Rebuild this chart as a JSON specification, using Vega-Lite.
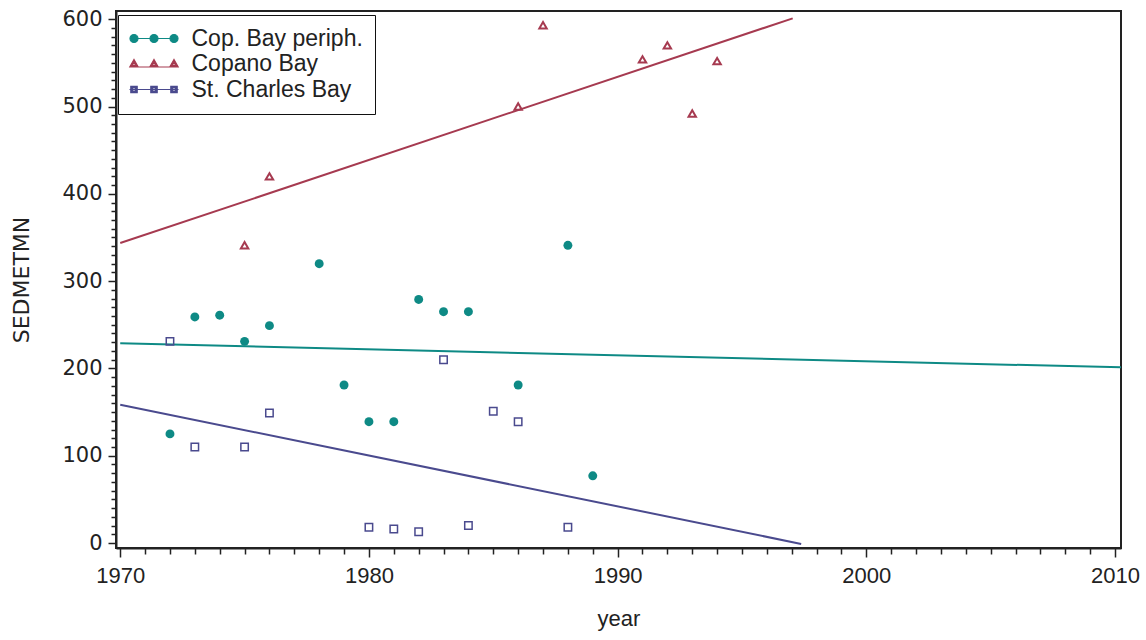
{
  "$schema": "https://vega.github.io/schema/vega-lite/v6.json",
  "width": 1005,
  "height": 537,
  "autosize": "none",
  "padding": {"left": 116, "top": 11, "right": 25, "bottom": 92},
  "background": "white",
  "config": {
    "view": {"stroke": "#222222", "strokeWidth": 2},
    "font": "Liberation Sans"
  },
  "datasets": {
    "pts": [
      {"series": "Cop. Bay periph.", "year": 1972, "val": 125},
      {"series": "Cop. Bay periph.", "year": 1973, "val": 259},
      {"series": "Cop. Bay periph.", "year": 1974, "val": 261},
      {"series": "Cop. Bay periph.", "year": 1975, "val": 231},
      {"series": "Cop. Bay periph.", "year": 1976, "val": 249},
      {"series": "Cop. Bay periph.", "year": 1978, "val": 320},
      {"series": "Cop. Bay periph.", "year": 1979, "val": 181},
      {"series": "Cop. Bay periph.", "year": 1980, "val": 139},
      {"series": "Cop. Bay periph.", "year": 1981, "val": 139},
      {"series": "Cop. Bay periph.", "year": 1982, "val": 279},
      {"series": "Cop. Bay periph.", "year": 1983, "val": 265},
      {"series": "Cop. Bay periph.", "year": 1984, "val": 265},
      {"series": "Cop. Bay periph.", "year": 1986, "val": 181},
      {"series": "Cop. Bay periph.", "year": 1988, "val": 341},
      {"series": "Cop. Bay periph.", "year": 1989, "val": 77},
      {"series": "Copano Bay", "year": 1975, "val": 341},
      {"series": "Copano Bay", "year": 1976, "val": 420},
      {"series": "Copano Bay", "year": 1986, "val": 500},
      {"series": "Copano Bay", "year": 1987, "val": 593},
      {"series": "Copano Bay", "year": 1991, "val": 554},
      {"series": "Copano Bay", "year": 1992, "val": 570},
      {"series": "Copano Bay", "year": 1993, "val": 492},
      {"series": "Copano Bay", "year": 1994, "val": 552},
      {"series": "St. Charles Bay", "year": 1972, "val": 231},
      {"series": "St. Charles Bay", "year": 1973, "val": 110},
      {"series": "St. Charles Bay", "year": 1975, "val": 110},
      {"series": "St. Charles Bay", "year": 1976, "val": 149},
      {"series": "St. Charles Bay", "year": 1980, "val": 18},
      {"series": "St. Charles Bay", "year": 1981, "val": 16},
      {"series": "St. Charles Bay", "year": 1982, "val": 13},
      {"series": "St. Charles Bay", "year": 1983, "val": 210},
      {"series": "St. Charles Bay", "year": 1984, "val": 20},
      {"series": "St. Charles Bay", "year": 1985, "val": 151},
      {"series": "St. Charles Bay", "year": 1986, "val": 139},
      {"series": "St. Charles Bay", "year": 1988, "val": 18}
    ],
    "fits": [
      {"series": "Cop. Bay periph.", "year": 1970, "val": 228.7},
      {"series": "Cop. Bay periph.", "year": 2010.24, "val": 201.2},
      {"series": "Copano Bay", "year": 1970, "val": 343.6},
      {"series": "Copano Bay", "year": 1997.04, "val": 601},
      {"series": "St. Charles Bay", "year": 1970, "val": 158.5},
      {"series": "St. Charles Bay", "year": 1997.38, "val": -1}
    ]
  },
  "layer": [
    {
      "data": {"name": "fits"},
      "mark": {"type": "line", "strokeWidth": 2, "clip": true},
      "encoding": {
        "x": {
          "field": "year", "type": "quantitative",
          "scale": {"domain": [1969.83, 2010.24], "nice": false, "zero": false},
          "axis": {
            "orient": "bottom",
            "values": [1971,1972,1973,1974,1975,1976,1977,1978,1979,1981,1982,1983,1984,1985,1986,1987,1988,1989,1991,1992,1993,1994,1995,1996,1997,1998,1999,2001,2002,2003,2004,2005,2006,2007,2008,2009],
            "labels": false, "domain": false, "grid": false, "title": null,
            "tickSize": 6, "tickColor": "#222222", "tickWidth": 1.5
          }
        },
        "y": {
          "field": "val", "type": "quantitative",
          "scale": {"domain": [-5.7, 609.4], "nice": false, "zero": false},
          "axis": {
            "orient": "left",
            "values": [10,20,30,40,50,60,70,80,90,110,120,130,140,150,160,170,180,190,210,220,230,240,250,260,270,280,290,310,320,330,340,350,360,370,380,390,410,420,430,440,450,460,470,480,490,510,520,530,540,550,560,570,580,590,610],
            "labels": false, "domain": false, "grid": false, "title": null,
            "tickSize": 5, "tickColor": "#222222", "tickWidth": 1.5
          }
        },
        "color": {
          "field": "series", "type": "nominal",
          "scale": {"domain": ["Cop. Bay periph.", "Copano Bay", "St. Charles Bay"], "range": ["#0E8A85", "#A63A50", "#4A4A8E"]},
          "legend": {
            "orient": "none", "legendX": 2, "legendY": 4,
            "title": null,
            "padding": 12,
            "strokeColor": "#111111", "fillColor": "white",
            "symbolSize": 400, "symbolStrokeWidth": 1.5, "symbolOffset": 12.5,
            "labelOffset": 26, "labelFont": "Liberation Sans", "labelFontSize": 23, "labelColor": "#222222",
            "rowPadding": 1.5, "labelLimit": 400,
            "encode": {
              "symbols": {
                "update": {
                  "shape": {"signal": "datum.value === 'Cop. Bay periph.' ? 'M-2.45,0L2.45,0M-1.6,0A0.4,0.4 0 1,1 -2.4,0A0.4,0.4 0 1,1 -1.6,0ZM0.4,0A0.4,0.4 0 1,1 -0.4,0A0.4,0.4 0 1,1 0.4,0ZM2.4,0A0.4,0.4 0 1,1 1.6,0A0.4,0.4 0 1,1 2.4,0Z' : datum.value === 'Copano Bay' ? 'M-2.45,0.3L2.45,0.3M-2,-0.45L-1.58,0.3L-2.42,0.3ZM-2,-0.15L-2.17,0.15L-1.83,0.15ZM0,-0.45L0.42,0.3L-0.42,0.3ZM0,-0.15L-0.17,0.15L0.17,0.15ZM2,-0.45L2.42,0.3L1.58,0.3ZM2,-0.15L1.83,0.15L2.17,0.15Z' : 'M-2.45,0L2.45,0M-2.32,-0.32L-1.68,-0.32L-1.68,0.32L-2.32,0.32ZM-2.15,-0.15L-2.15,0.15L-1.85,0.15L-1.85,-0.15ZM-0.32,-0.32L0.32,-0.32L0.32,0.32L-0.32,0.32ZM-0.15,-0.15L-0.15,0.15L0.15,0.15L0.15,-0.15ZM1.68,-0.32L2.32,-0.32L2.32,0.32L1.68,0.32ZM1.85,-0.15L1.85,0.15L2.15,0.15L2.15,-0.15Z'"},
                  "stroke": {"signal": "datum.value === 'Cop. Bay periph.' ? '#0E8A85' : datum.value === 'Copano Bay' ? '#A63A50' : '#4A4A8E'"},
                  "fill": {"signal": "datum.value === 'Cop. Bay periph.' ? '#0E8A85' : datum.value === 'Copano Bay' ? '#A63A50' : '#4A4A8E'"},
                  "strokeWidth": {"value": 1.2},
                  "opacity": {"value": 1}
                }
              }
            }
          }
        },
        "detail": {"field": "series"}
      }
    },
    {
      "data": {"name": "pts"},
      "transform": [{"filter": "datum.series === 'Cop. Bay periph.'"}],
      "mark": {"type": "point", "shape": "circle", "filled": true, "size": 80, "opacity": 1},
      "encoding": {
        "x": {
          "field": "year", "type": "quantitative",
          "axis": {
            "orient": "bottom",
            "values": [1970, 1980, 1990, 2000, 2010],
            "format": "d",
            "grid": false, "domain": true, "domainColor": "#222222", "domainWidth": 2,
            "tickSize": 9, "tickColor": "#222222", "tickWidth": 1.5,
            "labelFontSize": 22, "labelColor": "#222222", "labelPadding": 8,
            "labelFlush": false,
            "title": "year", "titleFontSize": 22, "titleFontWeight": "normal", "titleColor": "#222222", "titlePadding": 22
          }
        },
        "y": {
          "field": "val", "type": "quantitative",
          "axis": {
            "orient": "left",
            "values": [0, 100, 200, 300, 400, 500, 600],
            "format": "d",
            "grid": false, "domain": true, "domainColor": "#222222", "domainWidth": 2,
            "tickSize": 8, "tickColor": "#222222", "tickWidth": 1.5,
            "labelFont": "DejaVu Sans", "labelFontSize": 21, "labelColor": "#222222", "labelPadding": 6,
            "labelFlush": false,
            "title": "SEDMETMN", "titleFont": "DejaVu Sans", "titleFontSize": 22, "titleFontWeight": "normal", "titleColor": "#222222", "titlePadding": 28
          }
        },
        "color": {"field": "series", "type": "nominal"}
      }
    },
    {
      "data": {"name": "pts"},
      "transform": [{"filter": "datum.series === 'Copano Bay'"}],
      "mark": {"type": "point", "shape": "triangle-up", "filled": false, "size": 55, "strokeWidth": 2, "opacity": 1},
      "encoding": {
        "x": {"field": "year", "type": "quantitative", "axis": null},
        "y": {"field": "val", "type": "quantitative", "axis": null},
        "color": {"field": "series", "type": "nominal"}
      }
    },
    {
      "data": {"name": "pts"},
      "transform": [{"filter": "datum.series === 'St. Charles Bay'"}],
      "mark": {"type": "point", "shape": "square", "filled": false, "size": 55, "strokeWidth": 1.5, "opacity": 1},
      "encoding": {
        "x": {"field": "year", "type": "quantitative", "axis": null},
        "y": {"field": "val", "type": "quantitative", "axis": null},
        "color": {"field": "series", "type": "nominal"}
      }
    }
  ],
  "resolve": {"axis": {"x": "independent", "y": "independent"}}
}
